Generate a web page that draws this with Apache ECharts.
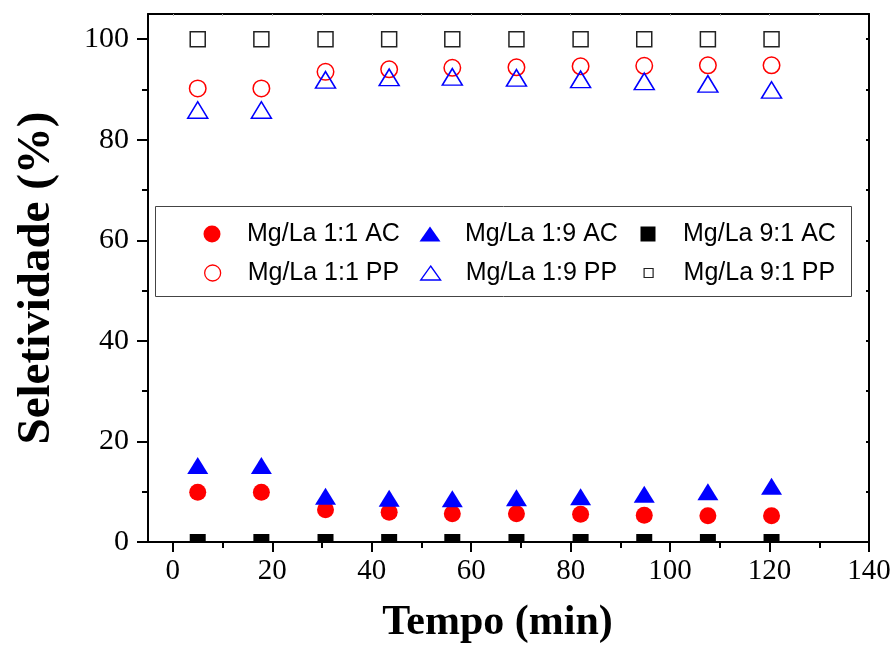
<!DOCTYPE html>
<html>
<head>
<meta charset="utf-8">
<script src="https://cdn.jsdelivr.net/npm/echarts@6/dist/echarts.min.js"></script>
<style>
  html, body { margin: 0; padding: 0; background: #fff; }
  #chart { width: 896px; height: 655px; }
</style>
</head>
<body>
<div id="chart"></div>
<script>
// Sampling times (min)
const tempo = [5, 17.8, 30.7, 43.5, 56.2, 69.1, 82, 94.8, 107.6, 120.4];

// Selectivity (%) per catalyst / product
const mgLa11AC = [9.9, 9.9, 6.4, 5.9, 5.6, 5.6, 5.5, 5.3, 5.2, 5.2];
const mgLa19AC = [15.2, 15.2, 9.1, 8.7, 8.6, 8.8, 9.0, 9.5, 10.0, 11.1];
const mgLa91AC = [0, 0, 0, 0, 0, 0, 0, 0, 0, 0];
const mgLa11PP = [90.2, 90.2, 93.5, 94.0, 94.3, 94.4, 94.6, 94.7, 94.8, 94.8];
const mgLa19PP = [85.9, 85.9, 91.9, 92.4, 92.5, 92.3, 92.0, 91.6, 91.1, 89.9];
const mgLa91PP = [100, 100, 100, 100, 100, 100, 100, 100, 100, 100];

// Axis ticks
const xMajorTicks = [0, 20, 40, 60, 80, 100, 120, 140];
const xMinorTicks = [10, 30, 50, 70, 90, 110, 130];
const xTopTicks = [0, 10, 20, 30, 40, 50, 60, 70, 80, 90, 100, 110, 120, 130];
const yMajorTicks = [0, 20, 40, 60, 80, 100];
const yMinorTicks = [10, 30, 50, 70, 90];
const yRightTicks = [10, 20, 30, 40, 50, 60, 70, 80, 90, 100];

const pairs = (ys) => tempo.map((t, i) => [t, ys[i]]);

const SERIF = "'Liberation Serif', 'Times New Roman', serif";
const SANS = "'Liberation Sans', Arial, sans-serif";
const RED = '#ff0000', BLUE = '#0000ff', BLACK = '#000000';
const CLEAR = 'rgba(0,0,0,0)';

// Legend icon outlines sized in pixels
const triIcon = (w, h) => `path://M${w / 2},0L${w},${h}L0,${h}Z`;
const sqIcon = (s) => `path://M0,0H${s}V${s}H0Z`;

const chart = echarts.init(document.getElementById('chart'), null, { renderer: 'canvas' });

// Legend entries: [name, icon, iconWidth, iconHeight, fill, stroke, lineWidth, centerX, centerY]
const legendSpec = [
  ['Mg/La 1:1 AC', 'circle', 17, 17, RED, null, 0, 212, 234],
  ['Mg/La 1:9 AC', triIcon(21, 15), 21, 15, BLUE, null, 0, 430, 234],
  ['Mg/La 9:1 AC', sqIcon(15), 15, 15, BLACK, null, 0, 648, 234],
  ['Mg/La 1:1 PP', 'circle', 16, 16, CLEAR, RED, 1.3, 212, 273],
  ['Mg/La 1:9 PP', triIcon(20, 14), 20, 14, CLEAR, BLUE, 1.3, 430, 273],
  ['Mg/La 9:1 PP', sqIcon(9), 9, 9, CLEAR, '#222', 1.2, 648, 273]
];
const ICON_BOX = 60;
const legends = legendSpec.map(([name, icon, w, h, fill, stroke, lw, cx, cy]) => ({
  show: true,
  data: [{ name: name, icon: icon }],
  left: cx - w / 2,
  top: cy - 15,
  padding: 0,
  itemWidth: ICON_BOX,
  itemHeight: h,
  symbolKeepAspect: true,
  selectedMode: false,
  itemStyle: stroke ? { color: fill, borderColor: stroke, borderWidth: lw } : { color: fill, borderWidth: 0 },
  textStyle: { fontFamily: SANS, fontSize: 25, color: '#000', lineHeight: 30 }
}));

const baseX = { type: 'value', min: -5, max: 140, gridIndex: 0, splitLine: { show: false } };
const baseY = { type: 'value', min: 0, max: 105, gridIndex: 0, splitLine: { show: false } };

const option = {
  backgroundColor: '#ffffff',
  animation: false,
  grid: { left: 148, right: 27, top: 14, bottom: 113, containLabel: false },
  legend: legends,
  graphic: [{
    type: 'rect',
    shape: { x: 155.5, y: 206.5, width: 696, height: 90 },
    style: { fill: 'none', stroke: '#444', lineWidth: 1 },
    z: 1
  }],
  xAxis: [
    Object.assign({}, baseX, {
      position: 'bottom',
      name: 'Tempo (min)',
      nameLocation: 'middle',
      nameGap: 60,
      nameTextStyle: { fontFamily: SERIF, fontWeight: 'bold', fontSize: 42, color: '#000', padding: [0, 22, 0, 0] },
      axisLine: { show: true, onZero: false, lineStyle: { color: '#000', width: 2 } },
      axisTick: { show: true, inside: false, length: 10, customValues: xMajorTicks, lineStyle: { color: '#000', width: 2 } },
      axisLabel: { show: true, margin: 15, customValues: xMajorTicks, fontFamily: SERIF, fontSize: 29, color: '#000' }
    }),
    Object.assign({}, baseX, {
      position: 'bottom',
      axisLine: { show: false, onZero: false },
      axisTick: { show: true, inside: false, length: 6, customValues: xMinorTicks, lineStyle: { color: '#000', width: 2 } },
      axisLabel: { show: false }
    }),
    Object.assign({}, baseX, {
      position: 'top',
      axisLine: { show: true, onZero: false, lineStyle: { color: '#000', width: 2 } },
      axisTick: { show: true, inside: true, length: 2, customValues: xTopTicks, lineStyle: { color: '#aaa', width: 1 } },
      axisLabel: { show: false }
    })
  ],
  yAxis: [
    Object.assign({}, baseY, {
      position: 'left',
      name: 'Seletividade (%)',
      nameLocation: 'middle',
      nameGap: 88,
      nameTextStyle: { fontFamily: SERIF, fontWeight: 'bold', fontSize: 47, color: '#000' },
      axisLine: { show: true, onZero: false, lineStyle: { color: '#000', width: 2 } },
      axisTick: { show: true, inside: false, length: 11, customValues: yMajorTicks, lineStyle: { color: '#000', width: 2 } },
      axisLabel: { show: true, margin: 19, customValues: yMajorTicks, fontFamily: SERIF, fontSize: 30, color: '#000' }
    }),
    Object.assign({}, baseY, {
      position: 'left',
      axisLine: { show: false, onZero: false },
      axisTick: { show: true, inside: false, length: 6, customValues: yMinorTicks, lineStyle: { color: '#000', width: 2 } },
      axisLabel: { show: false }
    }),
    Object.assign({}, baseY, {
      position: 'right',
      axisLine: { show: true, onZero: false, lineStyle: { color: '#000', width: 2 } },
      axisTick: { show: true, inside: true, length: 3, customValues: yRightTicks, lineStyle: { color: '#000', width: 2 } },
      axisLabel: { show: false }
    })
  ],
  series: [
    {
      name: 'Mg/La 1:1 AC', type: 'scatter', xAxisIndex: 0, yAxisIndex: 0,
      data: pairs(mgLa11AC), symbol: 'circle', symbolSize: 17,
      itemStyle: { color: RED, opacity: 1 }, z: 3
    },
    {
      name: 'Mg/La 1:1 PP', type: 'scatter', xAxisIndex: 0, yAxisIndex: 0,
      data: pairs(mgLa11PP), symbol: 'circle', symbolSize: 16.5,
      itemStyle: { color: CLEAR, borderColor: RED, borderWidth: 1.5, opacity: 1 }, z: 3
    },
    {
      name: 'Mg/La 1:9 AC', type: 'scatter', xAxisIndex: 0, yAxisIndex: 0,
      data: pairs(mgLa19AC), symbol: 'triangle', symbolSize: [21, 17],
      itemStyle: { color: BLUE, opacity: 1 }, z: 4
    },
    {
      name: 'Mg/La 1:9 PP', type: 'scatter', xAxisIndex: 0, yAxisIndex: 0,
      data: pairs(mgLa19PP), symbol: 'triangle', symbolSize: [20, 16.5],
      itemStyle: { color: CLEAR, borderColor: BLUE, borderWidth: 1.5, opacity: 1 }, z: 4
    },
    {
      // Square markers sitting on the zero line: only the part above the axis shows
      name: 'Mg/La 9:1 AC', type: 'scatter', xAxisIndex: 0, yAxisIndex: 0,
      data: pairs(mgLa91AC), symbol: 'rect', symbolSize: [16, 8], symbolOffset: [0, -4],
      itemStyle: { color: BLACK, opacity: 1 }, z: 5
    },
    {
      name: 'Mg/La 9:1 PP', type: 'scatter', xAxisIndex: 0, yAxisIndex: 0,
      data: pairs(mgLa91PP), symbol: 'rect', symbolSize: 15,
      itemStyle: { color: CLEAR, borderColor: '#222', borderWidth: 1.5, opacity: 1 }, z: 5
    }
  ]
};

chart.setOption(option);
</script>
</body>
</html>
